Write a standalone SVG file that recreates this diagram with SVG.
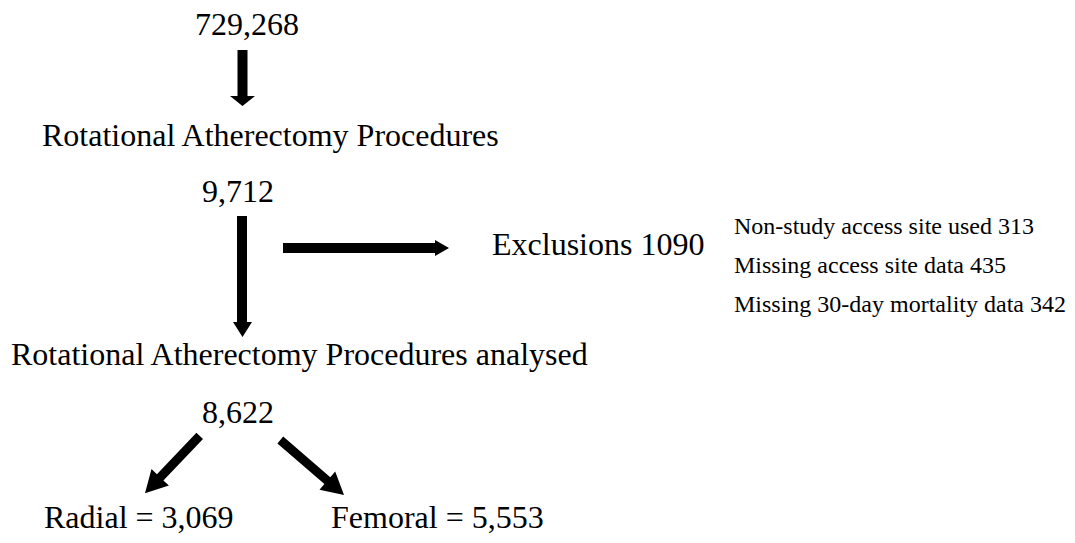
<svg xmlns="http://www.w3.org/2000/svg" width="1075" height="543" viewBox="0 0 1075 543">
<style>
  .big { font-family: "Liberation Serif", "Times New Roman", serif; font-size: 32px; fill: #000; }
  .small { font-family: "Liberation Serif", "Times New Roman", serif; font-size: 24px; fill: #000; }
  .arrow { fill: #000; stroke: none; }
</style>
<rect width="1075" height="543" fill="#fff"/>
<g id="n-total"><text class="big" x="195" y="35">729,268</text></g>
<g id="n-ra"><text class="big" x="42" y="146">Rotational Atherectomy Procedures</text></g>
<g id="n-ra-count"><text class="big" x="202" y="202">9,712</text></g>
<g id="n-exclusions"><text class="big" x="492" y="255">Exclusions 1090</text></g>
<g id="n-exclusion-details">
  <text class="small" x="734" y="234">Non-study access site used 313</text>
  <text class="small" x="734" y="273">Missing access site data 435</text>
  <text class="small" x="734" y="312">Missing 30-day mortality data 342</text>
</g>
<g id="n-analysed"><text class="big" x="11" y="365">Rotational Atherectomy Procedures analysed</text></g>
<g id="n-analysed-count"><text class="big" x="202" y="423">8,622</text></g>
<g id="n-radial"><text class="big" x="44" y="528">Radial = 3,069</text></g>
<g id="n-femoral"><text class="big" x="331" y="528">Femoral = 5,553</text></g>
<g id="connectors">
  <polygon class="arrow" points="237.5,50 247.5,50 247.5,96 255,96 242.5,106 230,96 237.5,96"/>
  <polygon class="arrow" points="237,216 247,216 247,322 252,322 242.5,337 233,322 237,322"/>
  <polygon class="arrow" points="283,243 435,243 435,240 449,248 435,256 435,253 283,253"/>
  <polygon class="arrow" points="196.4,432.7 203.0,438.9 163.4,480.5 168.9,485.6 145,493.3 151.5,469.1 156.9,474.3"/>
  <polygon class="arrow" points="283.2,436.6 277.4,443.4 324.4,484.0 319.5,489.7 344,495 335.2,471.6 330.3,477.2"/>
</g>
</svg>
